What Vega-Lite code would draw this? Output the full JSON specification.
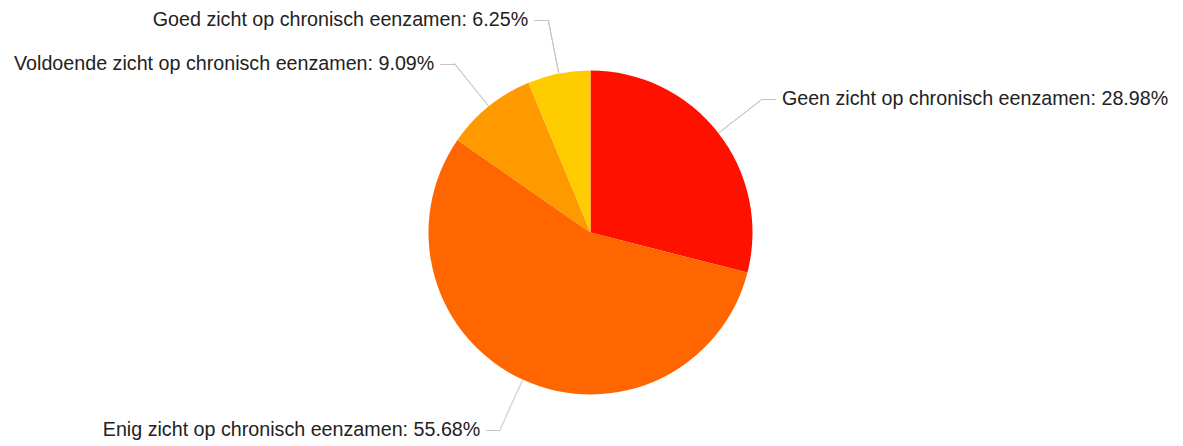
{
  "$schema": "https://vega.github.io/schema/vega-lite/v6.json",
  "width": 1181,
  "height": 427,
  "autosize": "none",
  "padding": {"top": 19, "left": 0, "right": 2, "bottom": 0},
  "background": "white",
  "config": {"view": {"stroke": null}, "text": {"font": "Liberation Sans"}},
  "data": {
    "values": [
      {"rank": 1, "cat": "Geen", "label": "Geen zicht op chronisch eenzamen: 28.98%", "value": 28.98},
      {"rank": 2, "cat": "Enig", "label": "Enig zicht op chronisch eenzamen: 55.68%", "value": 55.68},
      {"rank": 3, "cat": "Voldoende", "label": "Voldoende zicht op chronisch eenzamen: 9.09%", "value": 9.09},
      {"rank": 4, "cat": "Goed", "label": "Goed zicht op chronisch eenzamen: 6.25%", "value": 6.25}
    ]
  },
  "encoding": {
    "theta": {"field": "value", "type": "quantitative", "stack": true},
    "order": {"field": "rank", "type": "quantitative"},
    "detail": {"field": "cat", "type": "nominal"}
  },
  "layer": [
    {
      "mark": {"type": "arc", "outerRadius": 162},
      "encoding": {
        "color": {
          "field": "cat",
          "type": "nominal",
          "scale": {"domain": ["Geen", "Enig", "Voldoende", "Goed"], "range": ["#ff1100", "#ff6600", "#ff9900", "#ffcc00"]},
          "legend": null
        }
      }
    },
    {
      "mark": {"type": "arc", "innerRadius": 163, "outerRadius": 217, "padAngle": 3.1, "filled": false, "color": "#c4c4c4", "strokeWidth": 1},
      "encoding": {
        "strokeOpacity": {"condition": {"test": "datum.cat === 'Enig'", "value": 0}, "value": 1}
      }
    },
    {
      "mark": {"type": "text", "radius": 189.5, "angle": 114.3, "fontSize": 13.75, "align": "center", "baseline": "middle", "color": "#c4c4c4"},
      "encoding": {
        "text": {"condition": {"test": "datum.cat === 'Enig'", "value": "————"}, "value": ""}
      }
    },
    {
      "mark": {"type": "text", "radius": 217, "dx": 7, "fontSize": 14, "align": "center", "baseline": "middle", "color": "#c4c4c4"},
      "encoding": {
        "text": {"condition": {"test": "datum.cat === 'Geen'", "value": "—"}, "value": ""}
      }
    },
    {
      "mark": {"type": "text", "radius": 217, "dx": -7, "fontSize": 14, "align": "center", "baseline": "middle", "color": "#c4c4c4"},
      "encoding": {
        "text": {"condition": {"test": "datum.cat !== 'Geen'", "value": "—"}, "value": ""}
      }
    },
    {
      "mark": {"type": "text", "radius": 217, "dx": 20, "fontSize": 19.7, "align": "left", "baseline": "middle", "color": "#222222"},
      "encoding": {
        "text": {"condition": {"test": "datum.cat === 'Geen'", "field": "label", "type": "nominal"}, "value": ""}
      }
    },
    {
      "mark": {"type": "text", "radius": 217, "dx": -20, "fontSize": 19.7, "align": "right", "baseline": "middle", "color": "#222222"},
      "encoding": {
        "text": {"condition": {"test": "datum.cat !== 'Geen'", "field": "label", "type": "nominal"}, "value": ""}
      }
    }
  ]
}
